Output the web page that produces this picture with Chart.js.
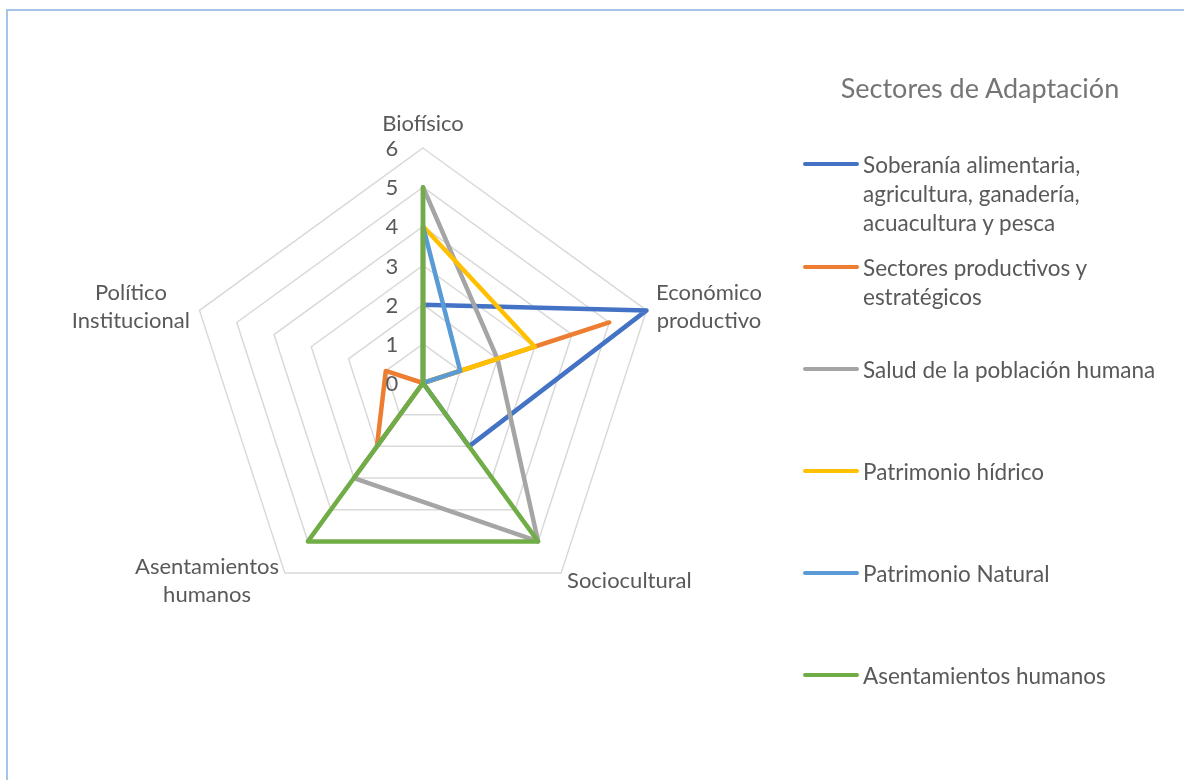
<!DOCTYPE html>
<html>
<head>
<meta charset="utf-8">
<script src="https://cdn.jsdelivr.net/npm/chart.js@4.4.1/dist/chart.umd.min.js"></script>
<style>
  body { margin: 0; background: #fff; font-family: Lato, 'Open Sans', sans-serif; }
  #wrap { position: relative; width: 1184px; height: 780px; overflow: hidden; }
  #frame { position: absolute; left: 6px; top: 9px; width: 1300px; height: 900px; border-top: 2px solid #a4c6e8; border-left: 2px solid #a4c6e8; }
  #radar { position: absolute; left: 0; top: 0; }
  #legend { position: absolute; left: 0; top: 0; width: 1184px; height: 780px; color: #595959; }
  #legend .title { position: absolute; left: 780px; width: 400px; top: 71px; text-align: center; font-size: 27px; color: #757575; }
  #legend .swatch { position: absolute; left: 803px; width: 56px; height: 4px; border-radius: 2px; }
  #legend .label { position: absolute; left: 863px; width: 320px; font-size: 22.5px; line-height: 29px; white-space: nowrap; }
</style>
</head>
<body>
<div id="wrap">
  <div id="frame"></div>
  <canvas id="radar" width="1184" height="780"></canvas>
  <div id="legend"></div>
</div>
<script>
// axes of the radar
const categories = ['Biofísico', ['Económico', 'productivo'], 'Sociocultural', ['Asentamientos', 'humanos'], ['Político', 'Institucional']]
const tickValues = [0, 1, 2, 3, 4, 5, 6]

// series (one per sector)
const seriesNames = [
  ['Soberanía alimentaria,', 'agricultura, ganadería,', 'acuacultura y pesca'],
  ['Sectores productivos y', 'estratégicos'],
  ['Salud de la población humana'],
  ['Patrimonio hídrico'],
  ['Patrimonio Natural'],
  ['Asentamientos humanos'],
]
const soberania = [2, 6, 2, 0, 0]
const sectoresProductivos = [0, 5, 0, 2, 1]
const salud = [5, 2, 5, 3, 0]
const patrimonioHidrico = [4, 3, 0, 0, 0]
const patrimonioNatural = [4, 1, 0, 0, 0]
const asentamientos = [5, 0, 5, 5, 0]

const colors = ['#4472C4', '#ED7D31', '#A5A5A5', '#FFC000', '#5B9BD5', '#70AD47']
const seriesData = [soberania, sectoresProductivos, salud, patrimonioHidrico, patrimonioNatural, asentamientos]

const labelFont = '22px Lato, "Open Sans", sans-serif'
const textColor = '#595959'

// draws tick numbers to the left of the top axis and the multi-line point labels
const radarText = {
  id: 'radarText',
  afterDraw(chart) {
    const scale = chart.scales.r
    const ctx = chart.ctx
    ctx.save()
    ctx.fillStyle = textColor
    ctx.font = labelFont
    ctx.textAlign = 'center'
    ctx.textBaseline = 'middle'
    tickValues.forEach(function (v) {
      const p = scale.getPointPositionForValue(0, v)
      ctx.fillText(String(v), p.x - 31, p.y + 1)
    })

    const lineH = 28
    const outer = scale.getDistanceFromCenterForValue(scale.max)
    categories.forEach(function (cat, i) {
      const lines = Array.isArray(cat) ? cat : [cat]
      const p = scale.getPointPosition(i, outer + 10)
      const w = Math.max.apply(null, lines.map(function (l) { return ctx.measureText(l).width }))
      const h = lines.length * lineH
      let cx = p.x
      let top = p.y - h / 2
      if (i === 0) { top = p.y - h }
      else if (p.x > scale.xCenter + 1) { cx = p.x + w / 2 }
      else if (p.x < scale.xCenter - 1) { cx = p.x - w / 2 }
      lines.forEach(function (l, k) {
        ctx.fillText(l, cx, top + lineH * k + lineH / 2)
      })
    })
    ctx.restore()
  },
}

const ctx = document.getElementById('radar').getContext('2d')
const radarChart = new Chart(ctx, {
  type: 'radar',
  data: {
    labels: categories,
    datasets: seriesData.map(function (d, i) {
      return {
        label: seriesNames[i].join(' '),
        data: d,
        borderColor: colors[i],
        backgroundColor: colors[i],
        borderWidth: 4.5,
        borderJoinStyle: 'round',
        borderCapStyle: 'round',
        pointRadius: 0,
        pointHoverRadius: 0,
        fill: false,
        order: seriesData.length - 1 - i,
      }
    }),
  },
  options: {
    responsive: false,
    animation: false,
    layout: {
      padding: { left: 188, top: 148, right: 526, bottom: 162 },
    },
    scales: {
      r: {
        min: 0,
        max: 6,
        ticks: { stepSize: 1, display: false },
        grid: { color: '#d9d9d9', lineWidth: 1.5 },
        angleLines: { display: false },
        pointLabels: { display: false },
      },
    },
    plugins: {
      legend: { display: false },
      tooltip: { enabled: false },
    },
  },
  plugins: [radarText],
})

// legend on the right, built from the same series arrays
const legendEl = document.getElementById('legend')
const title = document.createElement('div')
title.className = 'title'
title.textContent = 'Sectores de Adaptación'
legendEl.appendChild(title)
const firstLineY = [164, 267, 369, 471, 573, 675]
seriesNames.forEach(function (lines, i) {
  const sw = document.createElement('div')
  sw.className = 'swatch'
  sw.style.background = colors[i]
  sw.style.top = (firstLineY[i] - 2) + 'px'
  legendEl.appendChild(sw)
  const lb = document.createElement('div')
  lb.className = 'label'
  lb.style.top = (firstLineY[i] - 14.5) + 'px'
  lb.innerHTML = lines.join('<br>')
  legendEl.appendChild(lb)
})
</script>
</body>
</html>
